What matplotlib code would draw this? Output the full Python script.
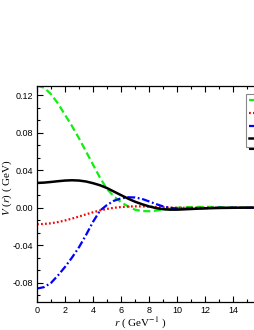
import matplotlib
matplotlib.use("Agg")
import matplotlib.pyplot as plt
from matplotlib.ticker import MultipleLocator, AutoMinorLocator

# ---- data ----
r = [0, 0.5, 1.0, 1.5, 2.0, 2.5, 3.0, 3.5, 4.0, 4.5, 5.0, 5.5, 6.0, 6.5, 7.0,
     7.5, 8.0, 8.5, 9.0, 9.5, 10, 11, 12, 13, 14, 15, 16, 18, 20]
v_green = [0.130, 0.128, 0.121, 0.111, 0.099, 0.087, 0.074, 0.060, 0.046, 0.032,
           0.020, 0.012, 0.006, 0.0015, -0.002, -0.0035, -0.0037, -0.003, -0.002,
           -0.001, 0.0, 0.0008, 0.001, 0.0008, 0.0003, 0.0, 0.0, 0.0, 0.0]
v_red = [-0.0175, -0.0172, -0.0165, -0.0152, -0.0135, -0.0115, -0.0093, -0.0070,
         -0.0048, -0.0028, -0.0012, 0.0, 0.0008, 0.0013, 0.0015, 0.0015, 0.0012,
         0.0008, 0.0004, 0.0001, 0.0, 0.0, 0.0, 0.0, 0.0, 0.0, 0.0, 0.0, 0.0]
v_blue = [-0.086, -0.0845, -0.080, -0.072, -0.063, -0.053, -0.042, -0.029, -0.015,
          -0.003, 0.003, 0.0075, 0.010, 0.0112, 0.011, 0.0095, 0.0068, 0.004,
          0.0015, 0.0, -0.0008, -0.0008, -0.0004, 0.0, 0.0, 0.0, 0.0, 0.0, 0.0]
v_black = [0.0265, 0.0268, 0.0275, 0.0283, 0.0290, 0.0293, 0.0290, 0.0280, 0.0262,
           0.0240, 0.0210, 0.0172, 0.0135, 0.0098, 0.0065, 0.0038, 0.0015, -0.0003,
           -0.0015, -0.002, -0.002, -0.0013, -0.0006, -0.0002, 0.0, 0.0002, 0.0002,
           0.0, 0.0]
x_ticks = [0, 2, 4, 6, 8, 10, 12, 14, 16, 18, 20]
x_ticklabels = ["0", "2", "4", "6", "8", "10", "12", "14", "", "", ""]
y_ticks = [-0.08, -0.04, 0.00, 0.04, 0.08, 0.12]
y_ticklabels = ["-0.08", "-0.04", "0.00", "0.04", "0.08", "0.12"]

plt.rcParams['mathtext.fontset'] = 'stix'
plt.rcParams['font.family'] = ['Liberation Sans', 'DejaVu Sans']

W, H = 255, 330
fig = plt.figure(figsize=(W / 100, H / 100), dpi=100)
px_per_unit = 14.0
xmax = 20
left_px, top_px, bottom_px = 37, 85.7, 301.7
ax_w_px = xmax * px_per_unit
ax_h_px = bottom_px - top_px
ax = fig.add_axes([left_px / W, 1 - bottom_px / H, ax_w_px / W, ax_h_px / H])

l1, = ax.plot(r, v_green, color='#11ee11', lw=1.6, ls=(0, (3.2, 1.6)))
l2, = ax.plot(r, v_red, color='#ff0000', lw=1.6, ls=(0, (0.8, 1.0)))
l3, = ax.plot(r, v_blue, color='#0000ff', lw=1.6, ls=(0, (3.5, 1.2, 0.8, 1.2)))
l4, = ax.plot(r, v_black, color='black', lw=1.8, ls='-')

ax.set_xlim(0, xmax)
ax.set_ylim(-0.10, 0.13)
ax.set_xticks(x_ticks)
ax.set_xticklabels(x_ticklabels)
ax.set_yticks(y_ticks)
ax.set_yticklabels(y_ticklabels)
ax.xaxis.set_minor_locator(MultipleLocator(1))
ax.yaxis.set_minor_locator(AutoMinorLocator(3))
ax.tick_params(which='both', direction='in', top=True, right=True,
               labelsize=6.5, width=0.8, pad=3)
ax.tick_params(which='major', length=4)
ax.tick_params(which='minor', length=2)
for s in ax.spines.values():
    s.set_linewidth(0.9)

ax.set_ylabel("$V$ ($r$) ( GeV)", fontsize=8, family='Liberation Serif')
ax.yaxis.set_label_coords(-(left_px - 14) / ax_w_px, (bottom_px - 188) / ax_h_px)
ax.set_xlabel("$r$ ( GeV$^{-1}$ )", fontsize=8, family='Liberation Serif')
ax.xaxis.set_label_coords((140 - left_px) / ax_w_px, -(315.5 - bottom_px) / ax_h_px)

leg = ax.legend([l1, l2, l3, l4], ["", "", "", ""],
                loc='upper left', bbox_to_anchor=(246 / W, 1 - 94 / H),
                bbox_transform=fig.transFigure, fontsize=6, frameon=True,
                fancybox=False, borderpad=0.4, borderaxespad=0,
                handlelength=3.5, labelspacing=0.58, handletextpad=0.5,
                shadow={'color': 'black', 'alpha': 1})
leg.get_frame().set_edgecolor('#888888')
leg.get_frame().set_linewidth(0.8)
leg.get_frame().set_alpha(1)

fig.savefig("out.png", dpi=100)
